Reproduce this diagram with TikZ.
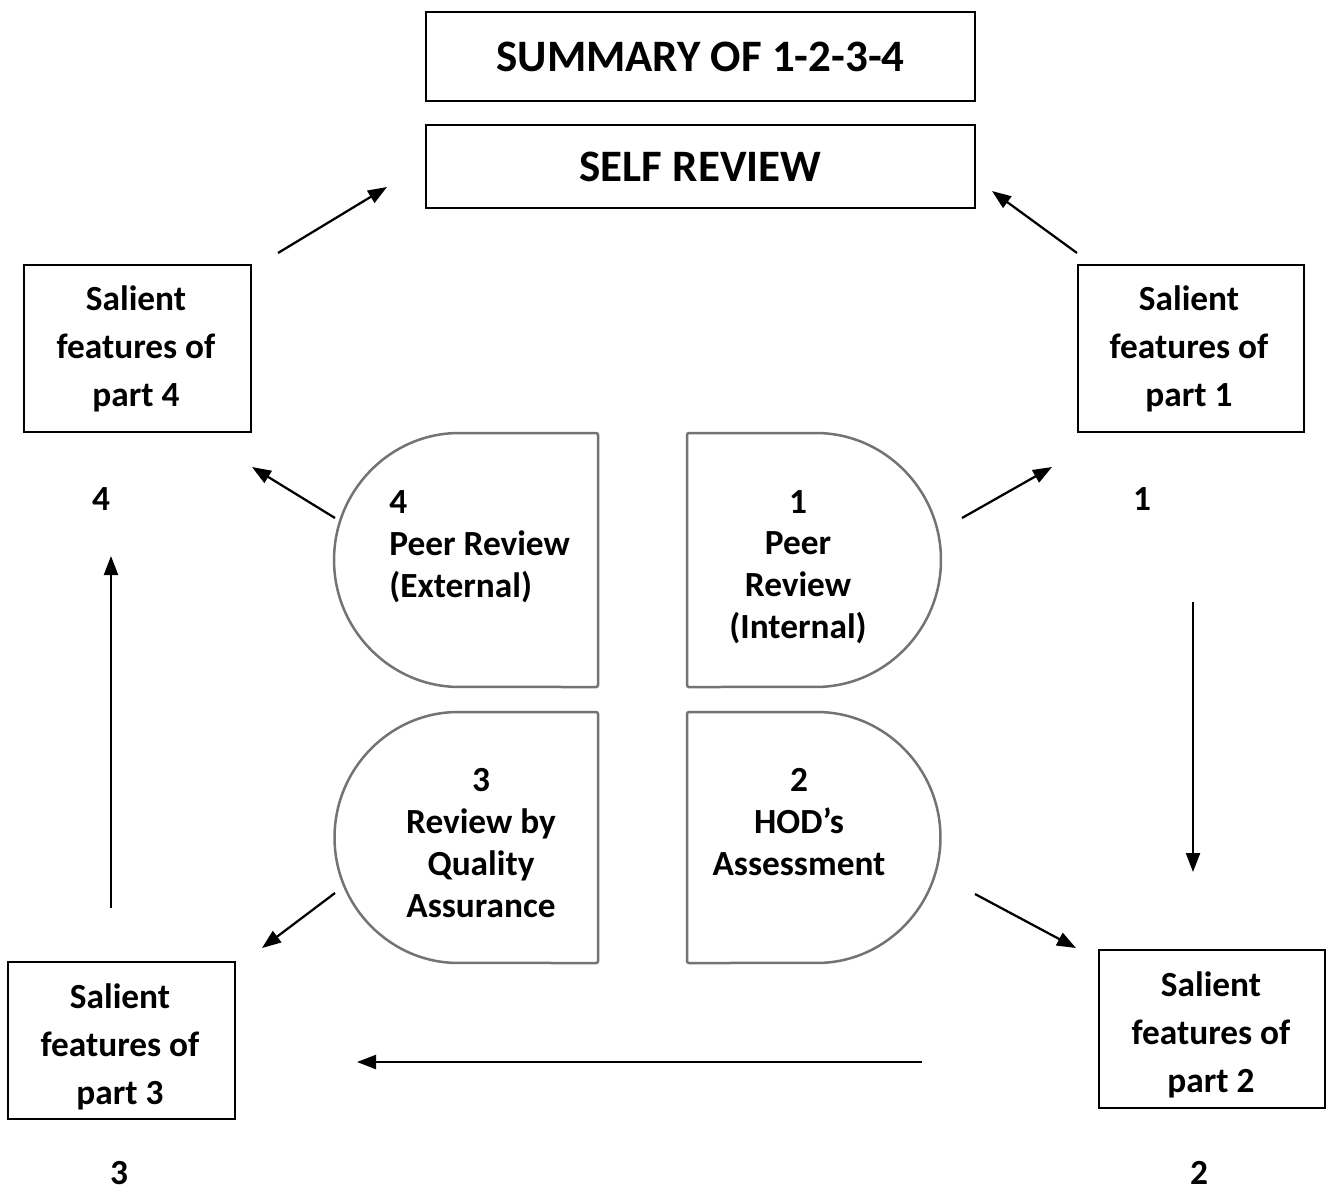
\documentclass[tikz,border=0pt]{standalone}
\usepackage{fontspec}
\setmainfont{Carlito}
\usetikzlibrary{arrows.meta}
\newcommand{\bodyfnt}{\fontsize{20.1pt}{27.2pt}\selectfont\bfseries}
\newcommand{\dfnt}{\fontsize{20.1pt}{23.8pt}\selectfont\bfseries}
\newcommand{\titlefnt}{\fontsize{25.6pt}{30pt}\selectfont\bfseries}
\begin{document}
\begin{tikzpicture}[x=0.02cm,y=-0.02cm,
  titlebox/.style={draw, line width=0.04cm, minimum width=10.98cm, inner sep=0pt, font=\titlefnt},
  partbox/.style={draw, line width=0.04cm, minimum width=4.54cm, inner sep=0pt},
  parttext/.style={inner sep=0pt, align=center, font=\bodyfnt},
  numlabel/.style={inner sep=0pt, font=\bodyfnt},
  dshape/.style={draw=black!55, line width=0.05cm, rounded corners=0.04cm},
  dtext/.style={inner sep=0pt, font=\dfnt},
  arr/.style={line width=0.045cm, -{Triangle[length=0.38cm,width=0.28cm]}}]
\useasboundingbox (0,0) rectangle (1332,1191);

% title boxes
\node[titlebox, minimum height=1.78cm] (summary) at (700.5,56.5) {SUMMARY OF 1-2-3-4};
\node[titlebox, minimum height=1.66cm] (self) at (700.5,166.5) {SELF REVIEW};

% part boxes
\node[partbox, minimum height=3.34cm] (p4) at (137.5,348.5) {};
\node[partbox, minimum height=3.34cm] (p1) at (1191,348.5) {};
\node[partbox, minimum height=3.14cm] (p3) at (121.5,1040.5) {};
\node[partbox, minimum height=3.16cm] (p2) at (1212,1029) {};
\node[parttext] (p4t) at (136,349) {Salient\\features of\\part 4};
\node[parttext] (p1t) at (1189,349) {Salient\\features of\\part 1};
\node[parttext] (p3t) at (120,1047) {Salient\\features of\\part 3};
\node[parttext] (p2t) at (1211,1035) {Salient\\features of\\part 2};

% number labels
\node[numlabel] (n4) at (101,499) {4};
\node[numlabel] (n1) at (1142,499) {1};
\node[numlabel] (n3) at (119,1173) {3};
\node[numlabel] (n2) at (1199,1173) {2};

% D shapes
\draw[dshape] (598,433) -- (461,433) arc[start angle=90, end angle=270, radius=2.54cm] -- (598,687) -- cycle;
\draw[dshape] (687,433) -- (814,433) arc[start angle=90, end angle=-90, radius=2.54cm] -- (687,687) -- cycle;
\draw[dshape] (598,712) -- (460,712) arc[start angle=90, end angle=270, radius=2.51cm] -- (598,963) -- cycle;
\draw[dshape] (687,712) -- (815,712) arc[start angle=90, end angle=-90, radius=2.51cm] -- (687,963) -- cycle;

\node[dtext, align=left, anchor=west] (d4) at (389,547) {4\\Peer Review\\(External)};
\node[dtext, align=center] (d1) at (798,567) {1\\Peer\\Review\\(Internal)};
\node[dtext, align=center] (d3) at (481,843) {3\\Review by\\Quality\\Assurance};
\node[dtext, align=center] (d2) at (799,822) {2\\HOD’s\\Assessment};

% arrow end points
\coordinate (a1s) at (278,253);  \coordinate (a1e) at (387,187);
\coordinate (a2s) at (1077,253); \coordinate (a2e) at (992,191);
\coordinate (a3s) at (335,518);  \coordinate (a3e) at (252,467);
\coordinate (a4s) at (962,518);  \coordinate (a4e) at (1052,467);
\coordinate (a5s) at (1193,602); \coordinate (a5e) at (1193,872);
\coordinate (a6s) at (975,894);  \coordinate (a6e) at (1076,948);
\coordinate (a7s) at (922,1062); \coordinate (a7e) at (357,1062);
\coordinate (a8s) at (335,893);  \coordinate (a8e) at (262,948);
\coordinate (a9s) at (111,908);  \coordinate (a9e) at (111,556);

\draw[arr] (a1s) -- (a1e);
\draw[arr] (a2s) -- (a2e);
\draw[arr] (a3s) -- (a3e);
\draw[arr] (a4s) -- (a4e);
\draw[arr] (a5s) -- (a5e);
\draw[arr] (a6s) -- (a6e);
\draw[arr] (a7s) -- (a7e);
\draw[arr] (a8s) -- (a8e);
\draw[arr] (a9s) -- (a9e);
\end{tikzpicture}
\end{document}
